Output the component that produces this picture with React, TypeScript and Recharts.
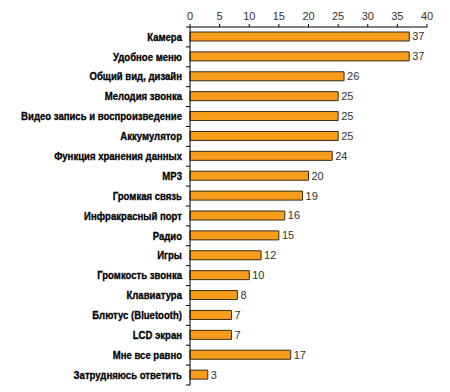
import React from 'react';
import { BarChart, Bar, XAxis, YAxis, LabelList } from 'recharts';

const categories = [
  'Камера',
  'Удобное меню',
  'Общий вид, дизайн',
  'Мелодия звонка',
  'Видео запись и воспроизведение',
  'Аккумулятор',
  'Функция хранения данных',
  'MP3',
  'Громкая связь',
  'Инфракрасный порт',
  'Радио',
  'Игры',
  'Громкость звонка',
  'Клавиатура',
  'Блютус (Bluetooth)',
  'LCD экран',
  'Мне все равно',
  'Затрудняюсь ответить',
];

const values = [37, 37, 26, 25, 25, 25, 24, 20, 19, 16, 15, 12, 10, 8, 7, 7, 17, 3];

const xTicks = [0, 5, 10, 15, 20, 25, 30, 35, 40];

const data = categories.map((name, i) => ({ name, value: values[i] }));

const W = 450;
const H = 392;
const TOP = 27;
const BOTTOM = 7;
const AXIS_X = 190;
const band = (H - TOP - BOTTOM) / categories.length;

const FONT = '"Liberation Sans", Arial, sans-serif';

// категории (сжатый жирный шрифт) + штрихи на границах полос, как в Excel
const CategoryTick = (props: any) => {
  const { y, payload, index } = props;
  return (
    <g>
      <g transform={`translate(${AXIS_X - 8}, ${y}) scale(0.87, 1)`}>
        <text
          x={0}
          y={0}
          textAnchor="end"
          dominantBaseline="central"
          fontFamily={FONT}
          fontWeight="bold"
          fontSize={11}
          stroke="#000"
          strokeWidth={0.3}
          fill="#000"
        >
          {payload.value}
        </text>
      </g>
      {index === 0 && <line x1={AXIS_X - 4} x2={AXIS_X} y1={y - band / 2} y2={y - band / 2} stroke="#000" />}
      <line x1={AXIS_X - 4} x2={AXIS_X} y1={y + band / 2} y2={y + band / 2} stroke="#000" />
    </g>
  );
};

export default function App() {
  return (
    <div style={{ position: 'absolute', left: 0, top: 0, width: W, height: H, background: '#fff' }}>
      <BarChart
        width={W}
        height={H}
        data={data}
        layout="vertical"
        margin={{ top: 0, right: 23, bottom: BOTTOM, left: 0 }}
        barCategoryGap={0}
      >
        <XAxis
          type="number"
          orientation="top"
          domain={[0, 40]}
          ticks={xTicks}
          height={TOP}
          tickSize={3}
          tickMargin={4}
          stroke="#000"
          tick={{ fontFamily: FONT, fontSize: 11, fill: '#333' }}
        />
        <YAxis
          type="category"
          dataKey="name"
          width={AXIS_X}
          tickLine={false}
          tickSize={0}
          interval={0}
          stroke="#000"
          tick={<CategoryTick />}
        />
        <Bar dataKey="value" fill="#F89C1C" stroke="#3a2a10" strokeWidth={1} barSize={9} isAnimationActive={false}>
          <LabelList dataKey="value" position="right" offset={3} fontFamily={FONT} fontSize={11} fill="#333" />
        </Bar>
      </BarChart>
    </div>
  );
}
